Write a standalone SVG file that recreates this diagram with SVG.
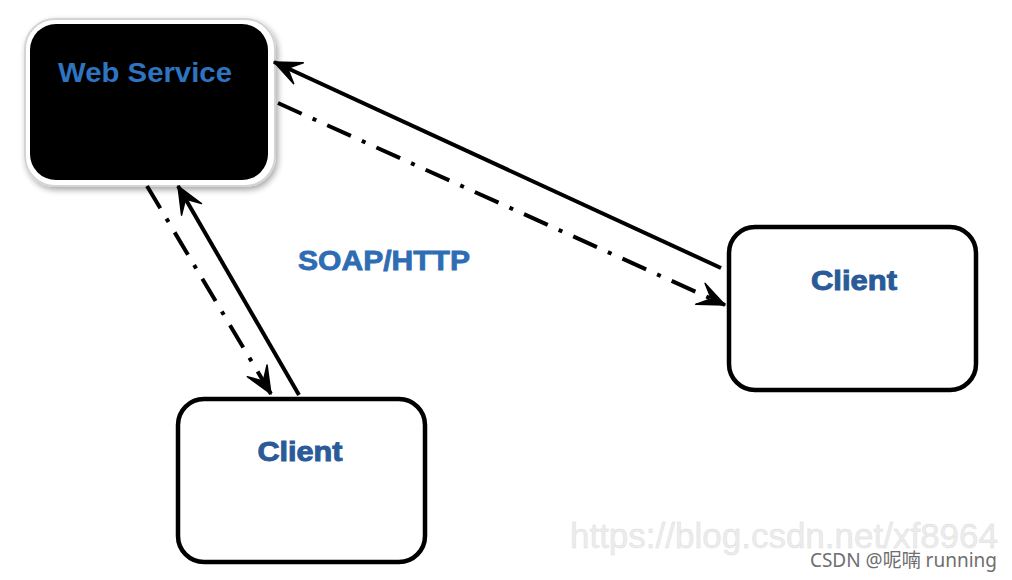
<svg xmlns="http://www.w3.org/2000/svg" width="1012" height="580" viewBox="0 0 1012 580">
  <style>
    .label { font-family: "Liberation Sans", Arial, sans-serif; font-weight: bold; text-anchor: middle; }
    .client { fill: #ffffff; stroke: #000000; stroke-width: 4.5; }
    .conn { fill: none; stroke: #000000; stroke-width: 4; }
    .dashdot { stroke-dasharray: 26 12 4 12; }
  </style>
  <defs>
    <marker id="head" viewBox="0 0 30 26" refX="28" refY="13" markerWidth="30" markerHeight="26" markerUnits="userSpaceOnUse" orient="auto">
      <path d="M28,13 L1,1.5 L13,13 L1,24.5 Z" fill="#000" stroke="#000" stroke-width="1.5" stroke-linejoin="round"/>
    </marker>
    <filter id="shadow" x="-10%" y="-10%" width="125%" height="125%">
      <feGaussianBlur in="SourceAlpha" stdDeviation="3"/>
      <feOffset dx="2" dy="3" result="b"/>
      <feComponentTransfer><feFuncA type="linear" slope="0.35"/></feComponentTransfer>
      <feMerge><feMergeNode/><feMergeNode in="SourceGraphic"/></feMerge>
    </filter>
  </defs>
  <rect width="1012" height="580" fill="#ffffff"/>

  <g id="web-service">
    <rect x="25" y="19" width="250" height="167" rx="30" fill="#ffffff" stroke="#d4d4d4" stroke-width="2" filter="url(#shadow)"/>
    <rect x="30" y="24" width="238" height="156" rx="26" fill="#000000"/>
    <text class="label" x="145" y="82" font-size="28" fill="#2e74c0" textLength="174" lengthAdjust="spacingAndGlyphs">Web Service</text>
  </g>

  <g id="client-right">
    <rect class="client" x="729" y="227" width="247" height="163" rx="26"/>
    <text class="label" x="854" y="290" font-size="28" fill="#2a5b98" stroke="#2a5b98" stroke-width="1" textLength="86" lengthAdjust="spacingAndGlyphs">Client</text>
  </g>

  <g id="client-bottom">
    <rect class="client" x="178" y="399" width="247" height="163" rx="26"/>
    <text class="label" x="300" y="461" font-size="28" fill="#2a5b98" stroke="#2a5b98" stroke-width="1" textLength="85" lengthAdjust="spacingAndGlyphs">Client</text>
  </g>

  <text id="protocol" class="label" x="384" y="270" font-size="28" fill="#2e6cb4" stroke="#2e6cb4" stroke-width="0.8" textLength="172" lengthAdjust="spacingAndGlyphs">SOAP/HTTP</text>

  <g id="connectors">
    <line class="conn" x1="721" y1="268" x2="274" y2="62" marker-end="url(#head)"/>
    <line class="conn dashdot" x1="278" y1="103" x2="725" y2="305" marker-end="url(#head)"/>
    <line class="conn" x1="299" y1="395" x2="178" y2="186" marker-end="url(#head)"/>
    <line class="conn dashdot" x1="147" y1="186" x2="271" y2="394" marker-end="url(#head)"/>
  </g>

  <g id="watermark">
    <text x="784" y="548" font-family="'Liberation Sans', Arial, sans-serif" font-size="35" fill="#ececec" stroke="#dcdcdc" stroke-width="0.4" text-anchor="middle">https://blog.csdn.net/xf8964</text>
    <text x="997" y="567" font-family="'Noto Sans', 'Noto Sans CJK SC', sans-serif" font-size="19" fill="#6e6e6e" text-anchor="end">CSDN @呢喃 running</text>
  </g>
</svg>
